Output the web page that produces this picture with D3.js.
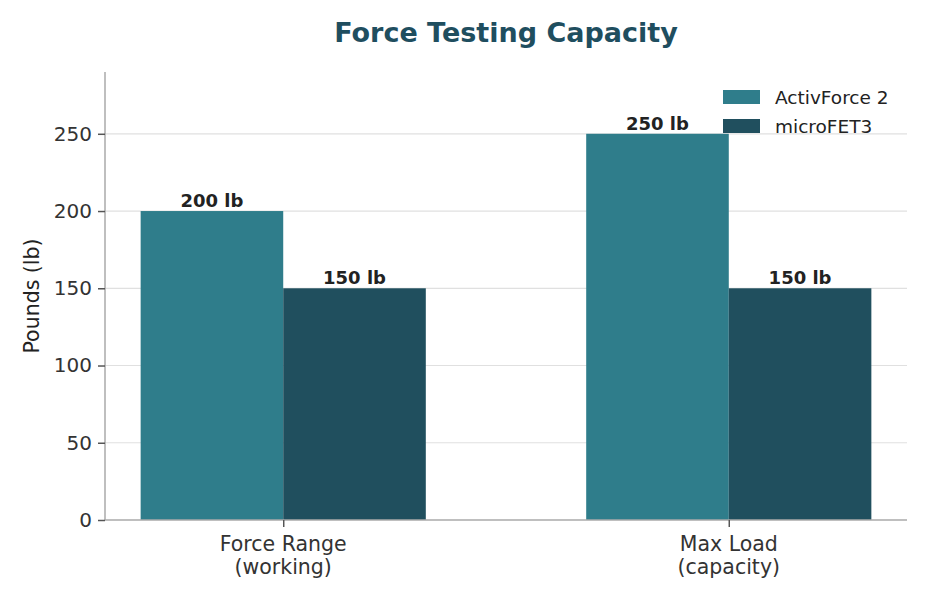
<!DOCTYPE html>
<html>
<head>
<meta charset="utf-8">
<script src="https://cdn.jsdelivr.net/npm/d3@7"></script>
<style>
  body { margin: 0; background: #fff; }
  text { font-family: "DejaVu Sans", sans-serif; }
</style>
</head>
<body>
<svg width="930" height="600"></svg>
<script>
// data
var categories = ["Force Range\n(working)", "Max Load\n(capacity)"];
var seriesNames = ["ActivForce 2", "microFET3"];
var activForce = [200, 250];
var microFET = [150, 150];
var yTicks = [0, 50, 100, 150, 200, 250];
var colors = ["#2f7d8b", "#204f5e"];

var svg = d3.select("svg");
var padding = {t: 72, r: 23, b: 80, l: 105};
var svgWidth = 930, svgHeight = 600;

var x = d3.scaleLinear()
	.domain([-0.4, 1.4])
	.range([padding.l, svgWidth - padding.r]);

var y = d3.scaleLinear()
	.domain([0, 290])
	.range([svgHeight - padding.b, padding.t]);

var barW = 0.32;

// grid lines
svg.append("g")
	.selectAll("line")
	.data(yTicks.filter(function(d) { return d > 0; }))
	.enter()
	.append("line")
	.attr("x1", x(-0.4))
	.attr("x2", x(1.4))
	.attr("y1", function(d) { return y(d); })
	.attr("y2", function(d) { return y(d); })
	.attr("stroke", "#e0e0e0")
	.attr("stroke-width", 1.2);

// bars
var series = [activForce, microFET];
series.forEach(function(vals, s) {
	svg.append("g")
		.selectAll("rect")
		.data(vals)
		.enter()
		.append("rect")
		.attr("x", function(d, i) { return x(i + (s - 1) * barW); })
		.attr("width", x(barW) - x(0))
		.attr("y", function(d) { return y(d); })
		.attr("height", function(d) { return y(0) - y(d); })
		.attr("fill", colors[s]);

	svg.append("g")
		.selectAll("text")
		.data(vals)
		.enter()
		.append("text")
		.attr("x", function(d, i) { return x(i + (s - 0.5) * barW); })
		.attr("y", function(d) { return y(d) - 4; })
		.attr("text-anchor", "middle")
		.style("font-size", "18px")
		.style("font-weight", "bold")
		.attr("fill", "#222")
		.text(function(d) { return d + " lb"; });
});

// y axis
var yAxis = svg.append("g")
	.attr("transform", "translate(" + padding.l + ",0)")
	.call(d3.axisLeft(y).tickValues(yTicks).tickSize(7).tickPadding(6));
yAxis.select(".domain").attr("stroke", "#aaa").attr("stroke-width", 1.5)
	.attr("d", "M0," + y(290) + "V" + y(0));
yAxis.selectAll(".tick line").attr("stroke", "#555").attr("stroke-width", 1.5);
yAxis.selectAll(".tick text").style("font-size", "20px").attr("fill", "#333");

// x axis
var xAxis = svg.append("g")
	.attr("transform", "translate(0," + y(0) + ")")
	.call(d3.axisBottom(x).tickValues([0, 1]).tickSize(7).tickFormat(""));
xAxis.select(".domain").attr("stroke", "#aaa").attr("stroke-width", 1.5)
	.attr("d", "M" + x(-0.4) + ",0H" + x(1.4));
xAxis.selectAll(".tick line").attr("stroke", "#555").attr("stroke-width", 1.5);

categories.forEach(function(c, i) {
	var lines = c.split("\n");
	var t = svg.append("text")
		.attr("x", x(i))
		.attr("y", y(0) + 31)
		.attr("text-anchor", "middle")
		.style("font-size", "20.5px")
		.attr("fill", "#333");
	lines.forEach(function(l, j) {
		t.append("tspan")
			.attr("x", x(i))
			.attr("dy", j == 0 ? 0 : 23)
			.text(l);
	});
});

// title
svg.append("text")
	.attr("x", (x(-0.4) + x(1.4)) / 2)
	.attr("y", 42)
	.attr("text-anchor", "middle")
	.style("font-size", "27px")
	.style("font-weight", "bold")
	.attr("fill", "#1f4e5f")
	.text("Force Testing Capacity");

// y label
svg.append("text")
	.attr("transform", "translate(" + 39 + "," + (y(0) + y(290)) / 2 + ")rotate(-90)")
	.attr("text-anchor", "middle")
	.style("font-size", "20.5px")
	.attr("fill", "#222")
	.text("Pounds (lb)");

// legend
seriesNames.forEach(function(n, i) {
	svg.append("rect")
		.attr("x", 723)
		.attr("y", 90 + i * 29)
		.attr("width", 37)
		.attr("height", 14)
		.attr("fill", colors[i]);
	svg.append("text")
		.attr("x", 775)
		.attr("y", 97 + i * 29)
		.attr("dominant-baseline", "central")
		.style("font-size", "18.5px")
		.attr("fill", "#222")
		.text(n);
});
</script>
</body>
</html>
